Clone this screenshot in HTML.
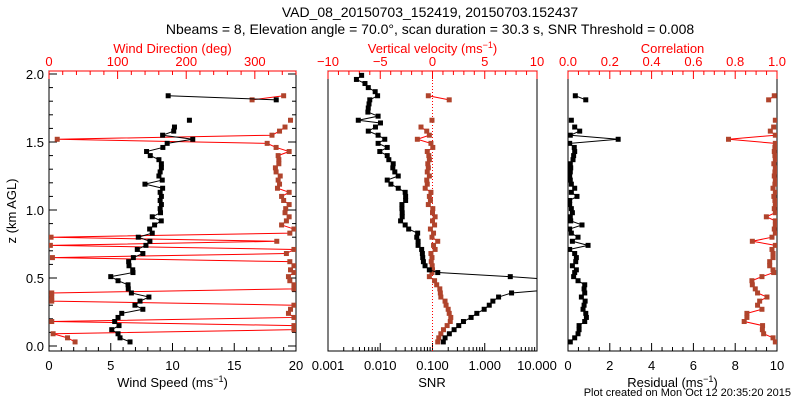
<!DOCTYPE html>
<html><head><meta charset="utf-8"><style>
body{margin:0;background:#fff;}
svg{display:block;font-family:"Liberation Sans",sans-serif;}
</style></head><body>
<svg id="c" width="800" height="400" viewBox="0 0 800 400">
<defs>
<clipPath id="cp1"><rect x="49" y="71" width="247" height="280"/></clipPath>
<clipPath id="cp2"><rect x="328" y="71" width="209" height="280"/></clipPath>
<clipPath id="cp3"><rect x="568" y="71" width="209" height="280"/></clipPath>
</defs>
<text x="430" y="17" font-size="14" text-anchor="middle">VAD_08_20150703_152419, 20150703.152437</text>
<text x="430" y="34" font-size="14" text-anchor="middle">Nbeams = 8, Elevation angle = 70.0°, scan duration = 30.3 s, SNR Threshold = 0.008</text>
<text x="791" y="396" font-size="11" text-anchor="end">Plot created on Mon Oct 12 20:35:20 2015</text>
</svg>
<script>
const heights=[0.03,0.06,0.09,0.12,0.15,0.18,0.21,0.24,0.27,0.30,0.33,0.36,0.39,0.42,0.45,0.48,0.51,0.54,0.56,0.59,0.62,0.65,0.68,0.71,0.74,0.77,0.80,0.83,0.86,0.89,0.92,0.95,0.98,1.01,1.04,1.07,1.10,1.13,1.16,1.19,1.22,1.25,1.28,1.31,1.34,1.37,1.40,1.43,1.46,1.49,1.52,1.55,1.58,1.61,1.64,1.66,1.69,1.72,1.75,1.78,1.81,1.84,1.87,1.90,1.93,1.96,1.99];
const windSpeed=[6.56,5.75,5.59,5.08,5.67,5.32,5.59,5.89,7.6,6.96,7.37,8.09,6.67,6.42,6.4,5.59,5.0,6.8,6.78,6.48,6.45,6.83,7.6,7.15,7.85,8.17,7.23,8.36,8.15,8.55,9.09,8.36,9.03,9.0,9.1,9.0,9.1,9.0,9.2,7.77,9.17,8.9,9.0,9.1,9.1,8.9,8.2,7.9,9.22,9.57,11.64,9.2,10.1,10.16,null,11.37,null,null,null,null,18.4,9.65];
const windDir=[38,27,6,357,357,4,357,349,352,357,4,4,4,357,357,351,349,357,352,357,351,5,346,357,2,332,3,351,357,339,346,350,344,345,350,342,339,350,333,336,334,337,331,330,335,335,334,350,331,318,12,325,336,344,null,352,null,null,null,null,296,342];
const snr=[0.161,0.174,0.210,0.259,0.318,0.391,0.548,0.705,0.975,1.22,1.43,1.84,3.26,30,60,40,3.08,0.126,0.087,0.072,0.067,0.065,0.064,0.062,0.053,0.053,0.050,0.052,0.035,0.030,0.0245,0.0263,0.0263,0.026,0.026,0.0306,0.0306,0.030,0.0221,0.0160,0.0136,0.0221,0.019,0.0174,0.0177,0.0146,0.0136,0.0098,0.0136,0.0091,0.0122,0.0091,0.0059,0.0081,0.0101,0.0038,0.0091,0.0058,0.0059,0.0061,0.0063,0.0089,0.0080,0.0059,0.0051,0.0035,0.0044];
const vertVel=[0.5,0.6,0.8,1.05,1.4,1.7,1.75,1.6,1.5,1.3,1.2,0.8,0.75,0.7,0.4,0.2,-0.3,-0.05,0,-0.03,-0.12,-0.05,-0.15,0.25,0.1,0.5,-0.05,0.1,-0.2,0.2,0,0.25,0,0.03,-0.4,-0.2,-0.3,-0.15,-0.7,-0.5,-0.55,-0.3,-0.5,-0.4,-0.45,-0.3,-0.35,-0.5,0.03,-0.15,-1.45,-0.3,-0.55,-1.1,null,-0.05,null,null,null,null,1.6,-0.4];
const residual=[0.11,0.32,0.48,0.53,0.53,0.8,0.88,0.85,0.72,0.77,0.82,0.64,0.8,0.77,0.8,0.48,0.27,0.32,0.4,0.21,0.37,0.4,0.32,0.08,0.96,0.21,0.48,0.16,0.08,0.67,0.13,0.11,0.21,0.16,0.08,0.08,0.43,0.16,0.32,0.16,0.11,0.08,0.11,0.13,0.11,0.24,0.27,0.32,0.3,0.08,2.4,0.11,0.56,0.32,null,0.16,null,null,null,null,0.85,0.35];
const correlation=[0.992,0.981,0.936,0.93,0.931,0.843,0.856,0.856,0.928,0.907,0.917,0.952,0.907,0.896,0.882,0.88,0.928,0.984,0.981,0.965,0.965,0.981,0.981,0.976,0.992,0.882,0.976,0.992,0.987,0.992,0.992,0.949,0.992,0.987,0.992,0.99,0.985,0.992,0.981,0.99,0.992,0.987,0.99,0.992,0.985,0.992,0.99,0.987,0.99,0.992,0.768,0.992,0.968,0.984,null,0.992,null,null,null,null,0.96,0.987];
const wsTicks=["0","5","10","15","20"],wdTicks=["0","100","200","300"],vvTicks=["−10","−5","0","5","10"],snrTicks=["0.001","0.010","0.100","1.000","10.000"],corrTicks=["0.0","0.2","0.4","0.6","0.8","1.0"],resTicks=["0","2","4","6","8","10"],zTicks=["0.0","0.5","1.0","1.5","2.0"];

const NS="http://www.w3.org/2000/svg",svg=document.getElementById('c');
const RED="#ff0000",BR="#b0442c";
function mk(t,a,p){const e=document.createElementNS(NS,t);for(const k in a)e.setAttribute(k,a[k]);(p||svg).appendChild(e);return e;}
const Y=z=>346-136*z;
const P1={x0:49,x1:296},P2={x0:328,x1:537},P3={x0:568,x1:777};
const lin=(P,a,b)=>v=>P.x0+(v-a)/(b-a)*(P.x1-P.x0);
const xWS=lin(P1,0,20),xWD=lin(P1,0,360),xVV=lin(P2,-10,10),xRes=lin(P3,0,10),xCor=lin(P3,0,1);
const xSNR=v=>P2.x0+(Math.log10(v)+3)/4*(P2.x1-P2.x0);

function frame(P,name){
  const r=mk('rect',{x:P.x0,y:71,width:P.x1-P.x0,height:280,fill:'none',stroke:'#000','stroke-width':1});
  
  const t=mk('line',{x1:P.x0,y1:71,x2:P.x1,y2:71,stroke:RED,'stroke-width':1});
  
}
function topAxis(P,fx,a,b,maj,min,labels,title,name){
  for(let v=a;v<=b+1e-9;v+=min){const x=fx(v),isM=Math.abs(Math.round((v-a)/maj)*maj-(v-a))<1e-6;
    mk('line',{x1:x,y1:71,x2:x,y2:71+(isM?8:4),stroke:RED});}
  labels.forEach((l,i)=>{const t=mk('text',{x:fx(a+i*maj),y:66,'font-size':13,'text-anchor':'middle',fill:RED});t.textContent=l;
    });
  const t=mk('text',{x:(P.x0+P.x1)/2,y:53,'font-size':13,'text-anchor':'middle',fill:RED});t.innerHTML=title;
  
}
function botAxis(P,fx,a,b,maj,min,labels,title,name){
  for(let v=a;v<=b+1e-9;v+=min){const x=fx(v),isM=Math.abs(Math.round((v-a)/maj)*maj-(v-a))<1e-6;
    mk('line',{x1:x,y1:351,x2:x,y2:351-(isM?8:4),stroke:'#000'});}
  labels.forEach((l,i)=>{const t=mk('text',{x:fx(a+i*maj),y:370,'font-size':13,'text-anchor':'middle'});t.textContent=l;
    });
  const t=mk('text',{x:(P.x0+P.x1)/2,y:387,'font-size':13,'text-anchor':'middle'});t.innerHTML=title;
  
}
function series(vals,fx,clip,lineCol,mCol,name){
  const g=mk('g',{'clip-path':'url(#'+clip+')'});
  
  let seg=[];const segs=[];
  vals.forEach((v,i)=>{if(v===null){if(seg.length)segs.push(seg);seg=[];}else seg.push([fx(v),Y(heights[i])]);});
  if(seg.length)segs.push(seg);
  segs.forEach(s=>{if(s.length>1)mk('polyline',{points:s.map(p=>p.join(',')).join(' '),fill:'none',stroke:lineCol,'stroke-width':1},g);});
  vals.forEach((v,i)=>{if(v===null)return;const r=mk('rect',{x:fx(v)-2.5,y:Y(heights[i])-2.5,width:5,height:5,fill:mCol},g);
    });
}
frame(P1,'wind-panel');frame(P2,'snr-panel');frame(P3,'residual-panel');
for(let k=0;k<=20;k++){const z=k*0.1,y=Y(z),m=k%5===0;
  mk('line',{x1:49,y1:y,x2:49+(m?8:4),y2:y,stroke:'#000'});mk('line',{x1:296,y1:y,x2:296-(m?8:4),y2:y,stroke:'#000'});}
zTicks.forEach((l,i)=>{const t=mk('text',{x:44,y:Y(i*0.5)+5,'font-size':13,'text-anchor':'end'});t.textContent=l;
  });
const yt=mk('text',{x:16,y:211,'font-size':13,'text-anchor':'middle',transform:'rotate(-90 16 211)'});yt.textContent='z (km AGL)';


topAxis(P1,xWD,0,360,100,20,wdTicks,'Wind Direction (deg)','wind-direction');
botAxis(P1,xWS,0,20,5,1,wsTicks,'Wind Speed (ms<tspan dy="-5" font-size="9">−1</tspan><tspan dy="5">)</tspan>','wind-speed');
topAxis(P2,xVV,-10,10,5,1,vvTicks,'Vertical velocity (ms<tspan dy="-5" font-size="9">−1</tspan><tspan dy="5">)</tspan>','vertical-velocity');
for(let d=-3;d<=1;d++){for(let m=1;m<=9;m++){const v=m*Math.pow(10,d);if(v>10.0001)break;const x=xSNR(v);
  mk('line',{x1:x,y1:351,x2:x,y2:351-(m===1?8:4),stroke:'#000'});}}
snrTicks.forEach((l,i)=>{const t=mk('text',{x:xSNR(Math.pow(10,i-3)),y:370,'font-size':13,'text-anchor':'middle'});t.textContent=l;
  });
const st=mk('text',{x:432,y:387,'font-size':13,'text-anchor':'middle'});st.textContent='SNR';

const zl=mk('line',{x1:xVV(0),y1:71,x2:xVV(0),y2:351,stroke:RED,'stroke-dasharray':'1,2'});

topAxis(P3,xCor,0,1,0.2,0.05,corrTicks,'Correlation','correlation');
botAxis(P3,xRes,0,10,2,0.5,resTicks,'Residual (ms<tspan dy="-5" font-size="9">−1</tspan><tspan dy="5">)</tspan>','residual');

series(windDir,xWD,'cp1',RED,BR,'wind-direction-series');
series(windSpeed,xWS,'cp1','#000','#000','wind-speed-series');
series(vertVel,xVV,'cp2',RED,BR,'vertical-velocity-series');
series(snr,xSNR,'cp2','#000','#000','snr-series');
series(correlation,xCor,'cp3',RED,BR,'correlation-series');
series(residual,xRes,'cp3','#000','#000','residual-series');
</script>
</body></html>
